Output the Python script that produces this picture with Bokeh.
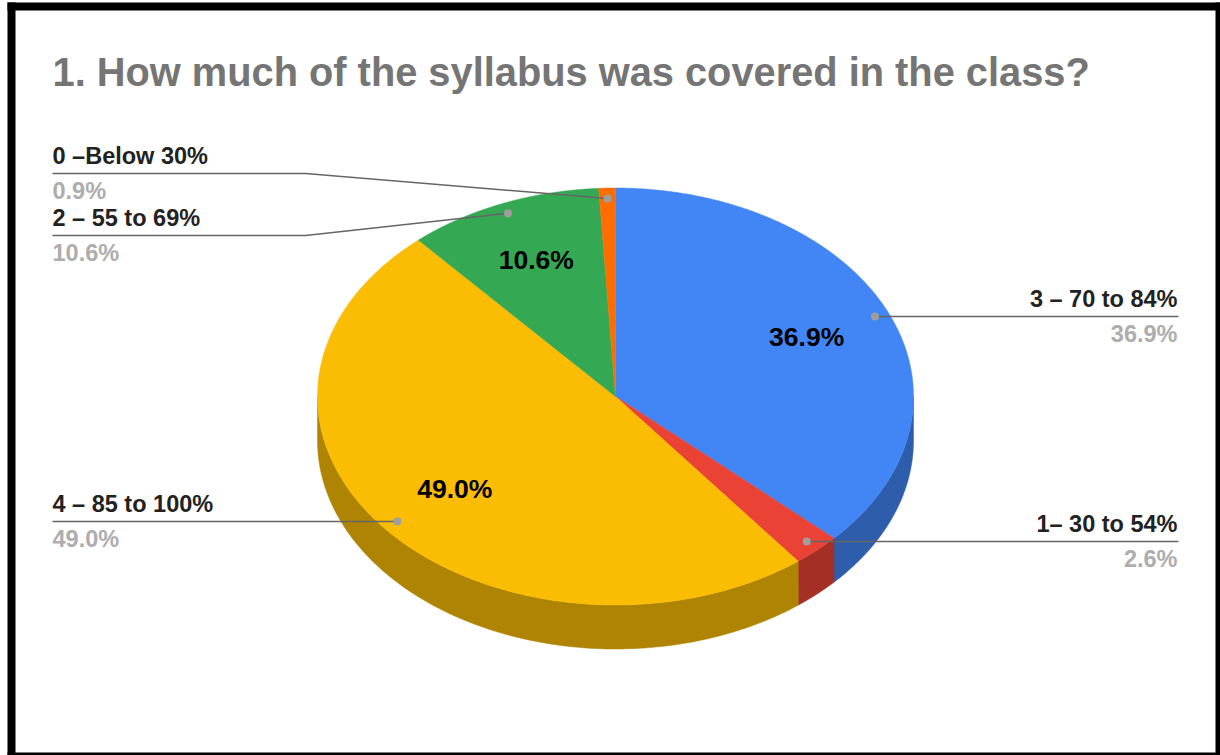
import numpy as np
from bokeh.core.properties import value
from bokeh.embed import file_html
from bokeh.models import Range1d
from bokeh.plotting import figure
from bokeh.resources import INLINE

TITLE = "1. How much of the syllabus was covered in the class?"
categories = ["3 – 70 to 84%", "1– 30 to 54%", "4 – 85 to 100%", "2 – 55 to 69%", "0 –Below 30%"]
shares = [36.9, 2.6, 49.0, 10.6, 0.9]

top_colors = ["#4285f4", "#ea4335", "#fbbc04", "#34a853", "#ff6d01"]
side_colors = ["#2e5dab", "#a42f25", "#af8403", "#247537", "#b34c01"]

W, H = 1220, 755
CX, CY, RX, RY, DEPTH = 615, 396, 298, 208.5, 44
FONT = value("Liberation Sans")

p = figure(width=W, height=H, output_backend="svg", toolbar_location=None,
           x_range=Range1d(0, W), y_range=Range1d(H, 0), min_border=0,
           outline_line_color=None, background_fill_color="white")
p.axis.visible = False
p.grid.visible = False
p.styles = {"position": "absolute", "left": "0px", "top": "0px"}

# frame
for l, r, t, b in [(7, W, 2, 10), (7, 15, 2, H), (1215, W, 2, H), (7, W, 752, H)]:
    p.quad(left=[l], right=[r], top=[t], bottom=[b], fill_color="black", line_color=None)


def px(theta, r=1.0):
    return CX + RX * r * np.sin(theta)


def py(theta, r=1.0):
    return CY - RY * r * np.cos(theta)


fractions = np.array(shares) / sum(shares)
edges = np.concatenate([[0], np.cumsum(fractions)]) * 2 * np.pi
mids = (edges[:-1] + edges[1:]) / 2

# side wall (only front half, pi/2..3pi/2, is visible)
for i, c in enumerate(side_colors):
    a, b = max(edges[i], np.pi / 2), min(edges[i + 1], 3 * np.pi / 2)
    if b <= a:
        continue
    t = np.linspace(a, b, 120)
    xs = np.concatenate([px(t), px(t)[::-1]])
    ys = np.concatenate([py(t), py(t)[::-1] + DEPTH])
    p.patch(xs, ys, fill_color=c, line_color=c, line_width=0.5)

# top face
for i, c in enumerate(top_colors):
    t = np.linspace(edges[i], edges[i + 1], 240)
    xs = np.concatenate([[CX], px(t)])
    ys = np.concatenate([[CY], py(t)])
    p.patch(xs, ys, fill_color=c, line_color=c, line_width=0.5)

# inner labels (slices too small get none)
inner = [i for i, s in enumerate(shares) if s > 5]
p.text(x=[px(mids[i], 0.7) for i in inner], y=[py(mids[i], 0.7) - 1 for i in inner],
       text=[f"{shares[i]:.1f}%" for i in inner], text_font=FONT, text_font_style="bold",
       text_font_size="26.5px", text_color="black", text_align="center", text_baseline="middle")

# leaders and outer labels
label_y = [316, 541, 521, 235, 173]
sides = ["right", "right", "left", "left", "left"]
elbow = [None, None, None, 305, 305]
LEFT_X, RIGHT_X = 52, 1178
for i in range(len(shares)):
    dx, dy = px(mids[i], 0.95), py(mids[i], 0.95)
    edge = RIGHT_X if sides[i] == "right" else LEFT_X
    if elbow[i] is None:
        lx, ly = [edge, dx], [label_y[i], label_y[i]]
    else:
        lx, ly = [edge, elbow[i], dx], [label_y[i], label_y[i], dy]
    p.line(lx, ly, line_color="#666666", line_width=1.4)
    p.scatter([dx], [dy if elbow[i] else label_y[i]], size=8, fill_color="#9e9e9e", line_color=None)
    tx = RIGHT_X - 1 if sides[i] == "right" else LEFT_X
    p.text([tx], [label_y[i] - 18], text=[categories[i]], text_font=FONT, text_font_style="bold",
           text_font_size="23.5px", text_color="#222222", text_align=sides[i], text_baseline="middle")
    p.text([tx], [label_y[i] + 17], text=[f"{shares[i]:.1f}%"], text_font=FONT, text_font_style="bold",
           text_font_size="23.5px", text_color="#adadad", text_align=sides[i], text_baseline="middle")

p.text([52], [71], text=[TITLE], text_font=FONT, text_font_style="bold", text_font_size="39.8px",
       text_color="#757575", text_align="left", text_baseline="middle")

open("out.html", "w").write(file_html(p, INLINE))
